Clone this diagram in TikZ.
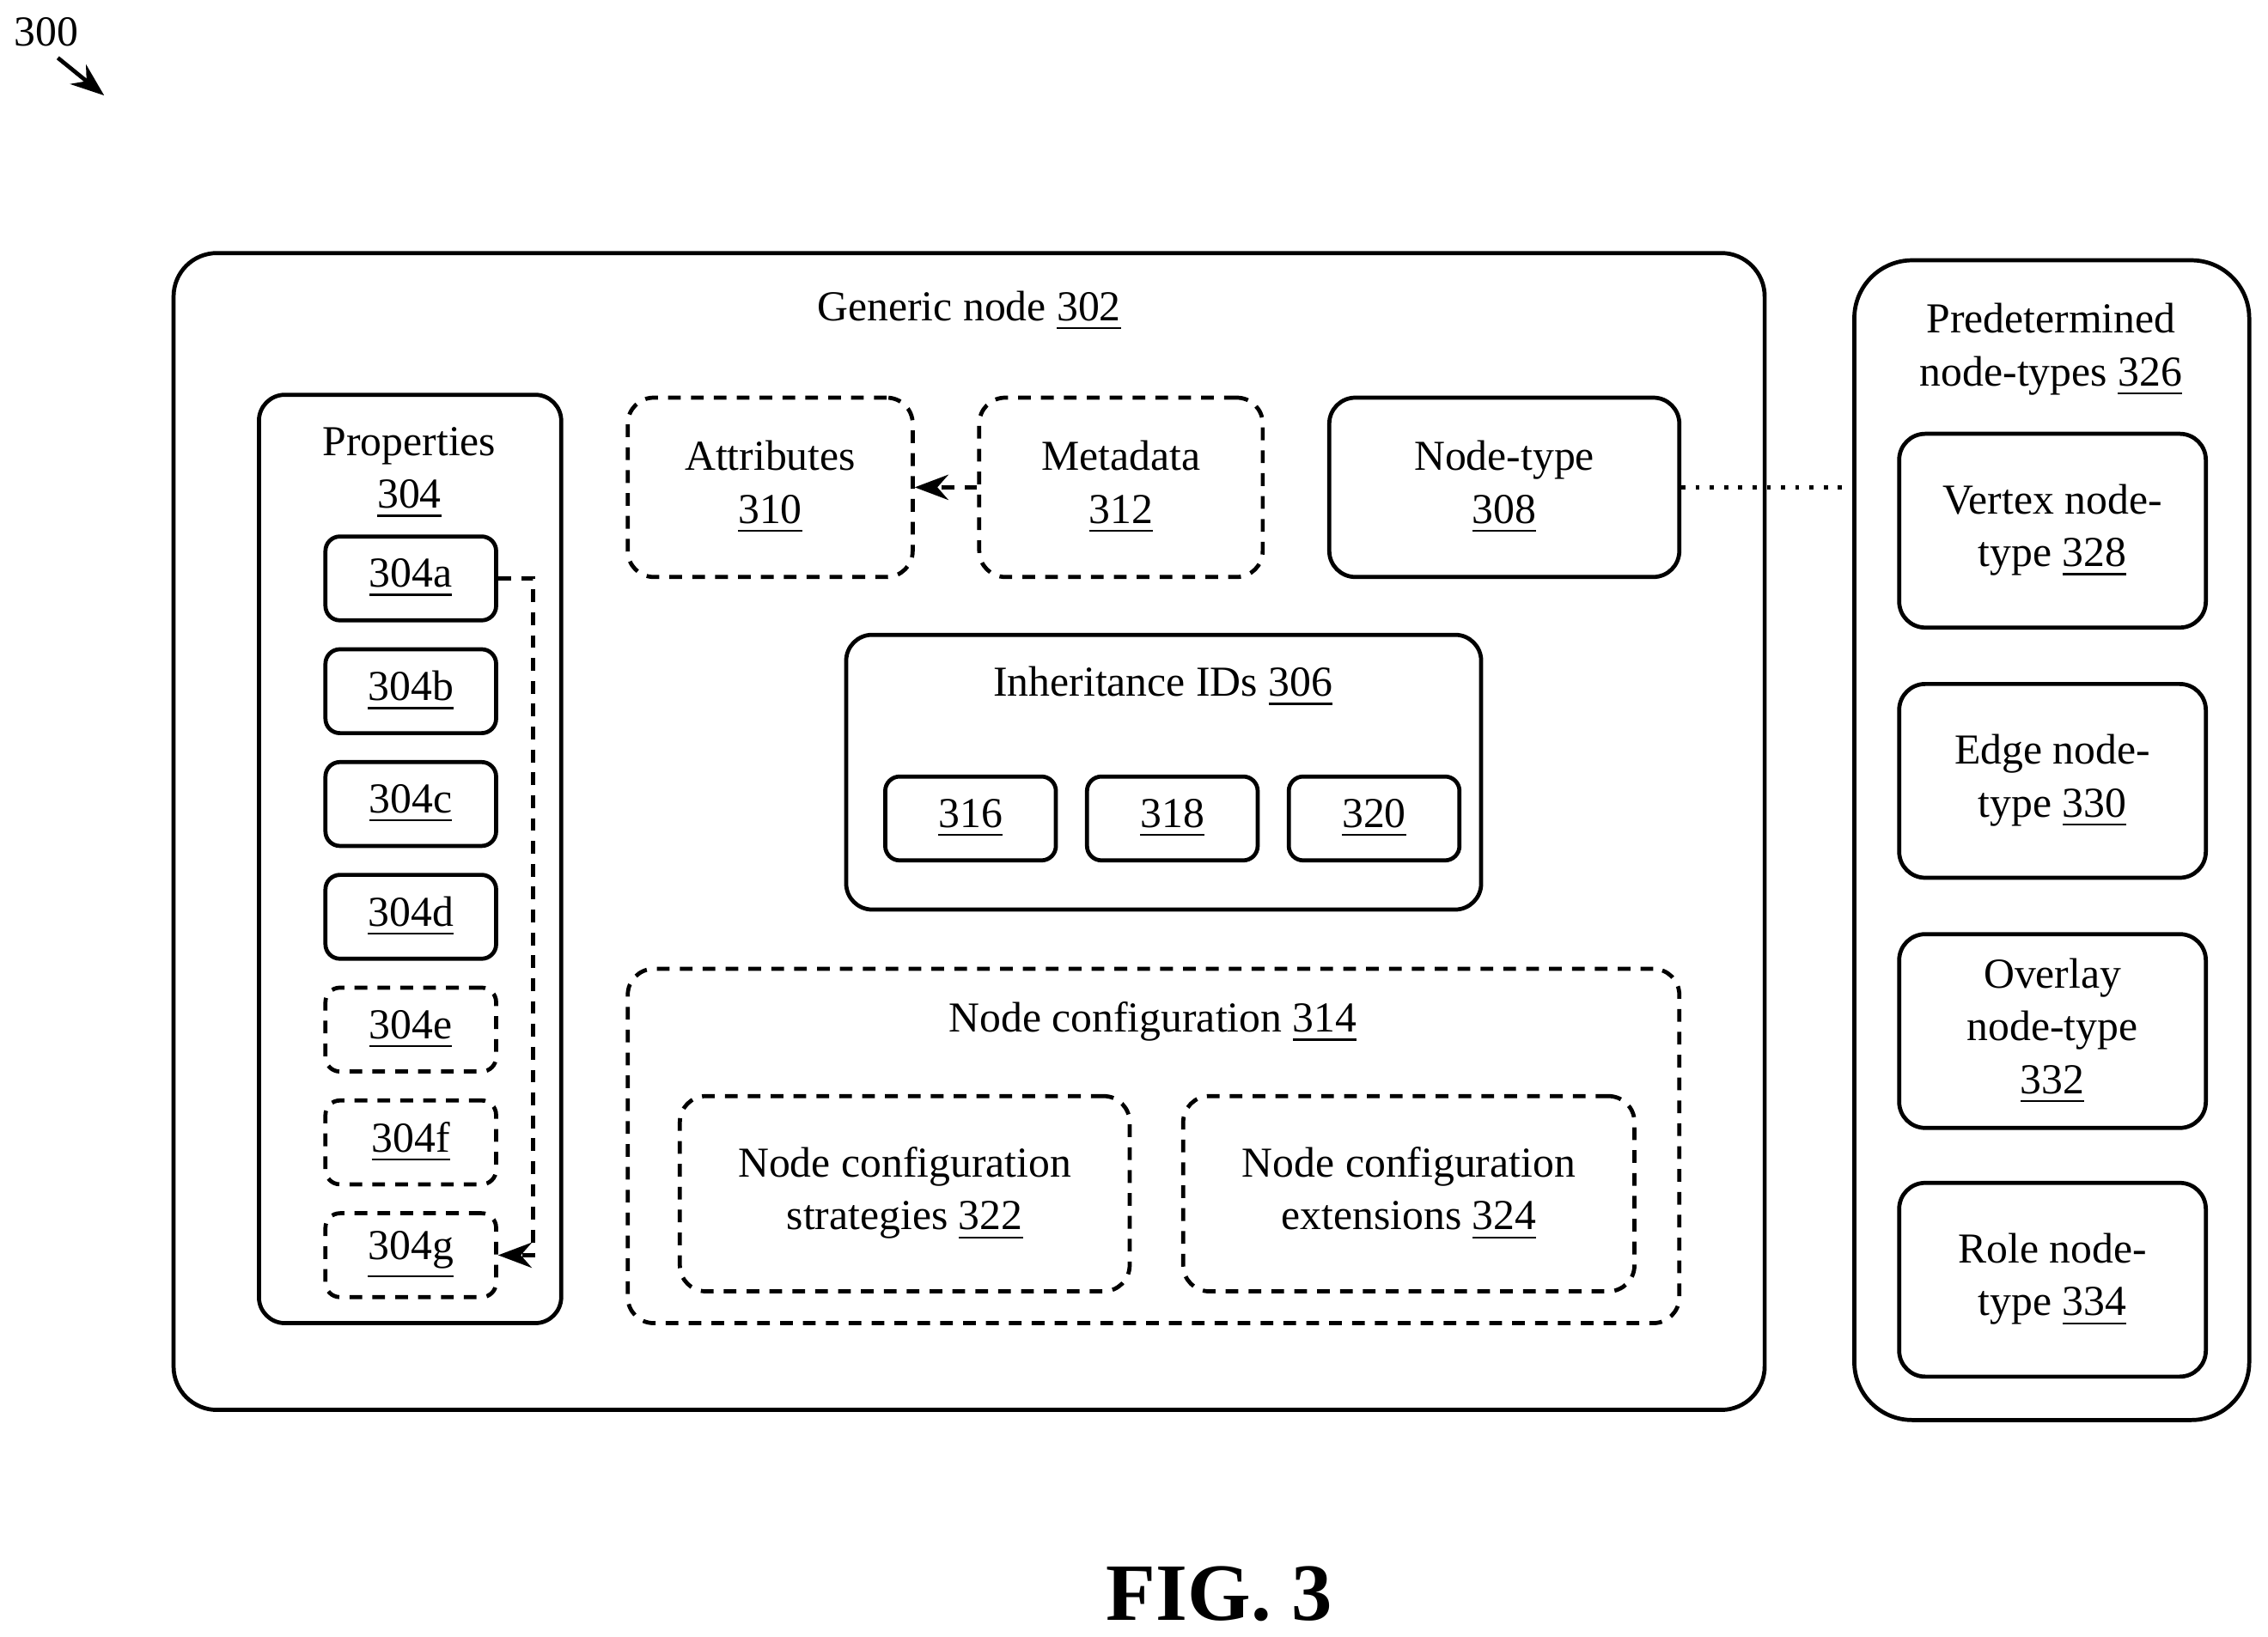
\documentclass[tikz,border=0pt]{standalone}
\usepackage{fontspec}
\setmainfont{Liberation Serif}
\usetikzlibrary{arrows.meta,positioning}
\newcommand{\ul}[1]{\underline{#1}}
\begin{document}
\begin{tikzpicture}[>=Stealth, font=\fontsize{8.4}{10.4}\selectfont,
  box/.style={draw, line width=0.8pt, rounded corners=0.18cm, inner sep=0pt, align=center},
  dbox/.style={box, dash pattern=on 2.5pt off 2pt},
  lbl/.style={align=center, inner sep=0pt}]
\useasboundingbox (0,0) rectangle (15.68,-11.32);

\node[lbl] (fig) at (0.32,-0.22) {300};
\draw[->, line width=0.8pt] (0.40,-0.40) -- (0.72,-0.66);

% generic node
\node[box, rounded corners=0.3cm, minimum width=11.00cm, minimum height=8.00cm] (GN) at (6.70,-5.75) {};
\node[lbl] (GNl) at (6.70,-2.15) {Generic node \ul{302}};

% properties
\node[box, minimum width=2.09cm, minimum height=6.42cm] (P) at (2.835,-5.94) {};
\node[lbl] (Pl) at (2.83,-3.27) {Properties\\\ul{304}};
\foreach \n/\y/\s in {a/3.97/box, b/4.75/box, c/5.53/box, d/6.31/box, e/7.09/dbox, f/7.87/dbox, g/8.65/dbox}
  \node[\s, rounded corners=0.1cm, minimum width=1.18cm, minimum height=0.58cm] (p\n) at (2.84,-\y-0.03) {\ul{304\n}};
\draw[->, dash pattern=on 2.5pt off 2pt, line width=0.8pt] (pa.east) -- ++(0.24,0) |- (pg.east);

% top row
\node[dbox, minimum width=1.97cm, minimum height=1.24cm] (A) at (5.325,-3.37) {Attributes\\\ul{310}};
\node[dbox, minimum width=1.96cm, minimum height=1.24cm] (M) at (7.75,-3.37) {Metadata\\\ul{312}};
\node[box, minimum width=2.42cm, minimum height=1.24cm] (NT) at (10.40,-3.37) {Node-type\\\ul{308}};
\draw[->, dash pattern=on 2.5pt off 2pt, line width=0.8pt] (M) -- (A);

% inheritance
\node[box, minimum width=4.39cm, minimum height=1.90cm] (I) at (8.045,-5.34) {};
\node[lbl] (Il) at (8.04,-4.75) {Inheritance IDs \ul{306}};
\foreach \n/\x in {316/6.71, 318/8.105, 320/9.50}
  \node[box, rounded corners=0.1cm, minimum width=1.18cm, minimum height=0.58cm] (i\n) at (\x,-5.66) {\ul{\n}};

% node configuration
\node[dbox, minimum width=7.27cm, minimum height=2.45cm] (NC) at (7.975,-7.925) {};
\node[lbl] (NCl) at (7.97,-7.07) {Node configuration \ul{314}};
\node[dbox, minimum width=3.11cm, minimum height=1.35cm] (S) at (6.255,-8.255) {Node configuration\\strategies \ul{322}};
\node[dbox, minimum width=3.12cm, minimum height=1.35cm] (E) at (9.74,-8.255) {Node configuration\\extensions \ul{324}};

% predetermined node-types
\node[box, rounded corners=0.4cm, minimum width=2.73cm, minimum height=8.02cm] (PT) at (14.185,-5.81) {};
\node[lbl] (PTl) at (14.18,-2.42) {Predetermined\\node-types \ul{326}};
\foreach \n/\y/\t in {328/3.67/{Vertex node-\\type \ul{328}}, 330/5.40/{Edge node-\\type \ul{330}}, 332/7.13/{Overlay\\node-type\\\ul{332}}, 334/8.85/{Role node-\\type \ul{334}}}
  \node[box, minimum width=2.12cm, minimum height=1.34cm] (t\n) at (14.19,-\y) {\t};
\draw[dotted, line width=0.8pt] (NT.east) -- (PT.west |- NT.east);

\node[lbl, font=\fontsize{16}{19}\selectfont\bfseries] (F) at (8.43,-11.02) {FIG. 3};
\end{tikzpicture}
\end{document}
